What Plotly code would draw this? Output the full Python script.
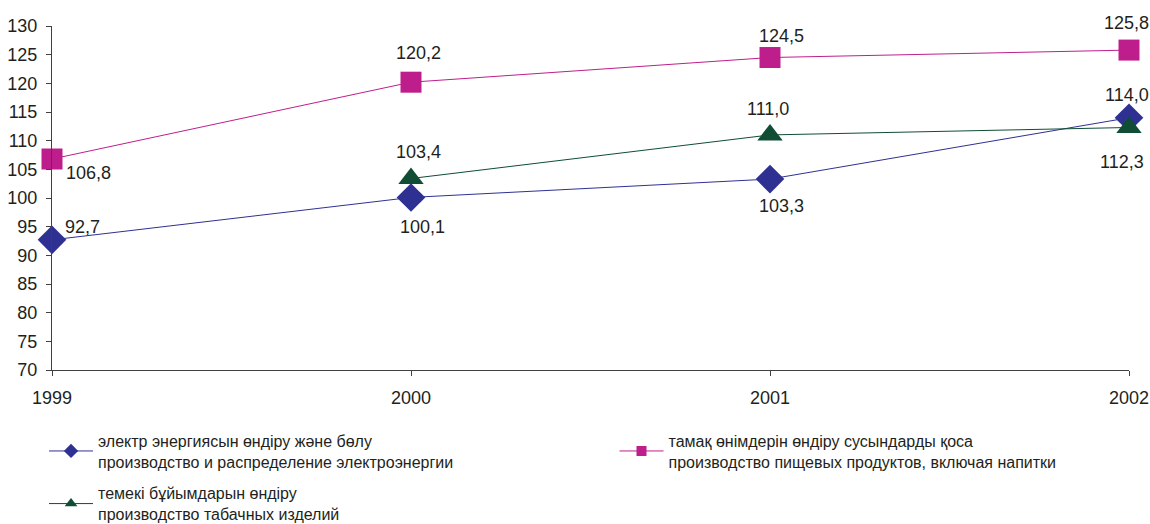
import plotly.graph_objects as go

years = [1999, 2000, 2001, 2002]
elec = [92.7, 100.1, 103.3, 114.0]
food = [106.8, 120.2, 124.5, 125.8]
tobacco = [None, 103.4, 111.0, 112.3]

names = [
    "электр энергиясын өндіру және бөлу<br>производство и распределение электроэнергии",
    "тамақ өнімдерін өндіру сусындарды қоса<br>производство пищевых продуктов, включая напитки",
    "темекі бұйымдарын өндіру<br>производство табачных изделий",
]

# label offsets (pixels) per point: (xshift, yshift)
elec_off = [(30, 13), (11, -30), (11, -27), (-2, 23)]
food_off = [(36, -14), (7, 29), (11, 22), (-3, 27)]
tob_off = [None, (7, 27), (-2, 26), (-7, -35)]

FAM = "Liberation Sans, Arial, sans-serif"
DARK = "#231f20"
font = dict(family=FAM, size=18, color=DARK)

BLUE, PINK, GREEN = "#2e3192", "#be1e8c", "#0f4d34"

series = [
    (elec, names[0], BLUE, "diamond", 22, "legend", "a", 11),
    (food, names[1], PINK, "square", 21, "legend2", "b", 10),
    (tobacco, names[2], GREEN, "triangle-up", 22, "legend", "c", 11),
]

fig = go.Figure()
for vals, name, col, sym, size, leg, grp, lsize in series:
    fig.add_trace(go.Scatter(
        x=years, y=vals, name=name, mode="lines+markers",
        line=dict(color=col, width=1),
        marker=dict(symbol=sym, size=size, color=col),
        cliponaxis=False, showlegend=False, legendgroup=grp,
    ))
    # legend entry (same series, smaller legend symbol)
    fig.add_trace(go.Scatter(
        x=[None], y=[None], name=name, mode="lines+markers",
        line=dict(color=col, width=1),
        marker=dict(symbol=sym, size=lsize, color=col),
        legend=leg, legendgroup=grp, hoverinfo="skip",
    ))

for vals, offs in ((elec, elec_off), (food, food_off), (tobacco, tob_off)):
    for x, v, o in zip(years, vals, offs):
        if v is None:
            continue
        fig.add_annotation(
            x=x, y=v, text=f"{v:.1f}".replace(".", ","), showarrow=False,
            xshift=o[0], yshift=o[1], font=font, xanchor="center", yanchor="middle",
        )

leg_font = dict(family=FAM, size=16, color=DARK)
fig.update_layout(
    width=1150, height=524,
    margin=dict(l=52, r=21, t=26, b=154, autoexpand=False),
    paper_bgcolor="white", plot_bgcolor="white",
    font=font,
    showlegend=True,
    legend=dict(
        orientation="v", x=-0.0074, xanchor="left", y=-0.156, yanchor="top",
        itemwidth=44, font=leg_font,
        traceorder="grouped", tracegroupgap=8, itemclick=False, bgcolor="rgba(0,0,0,0)",
    ),
    legend2=dict(
        orientation="v", x=0.5223, xanchor="left", y=-0.156, yanchor="top",
        itemwidth=44, font=leg_font,
        itemclick=False, bgcolor="rgba(0,0,0,0)",
    ),
    xaxis=dict(
        range=[1999, 2002], tickvals=years, ticktext=[str(y) for y in years],
        showgrid=False, zeroline=False, showline=True, linecolor="#404040", linewidth=1,
        ticks="outside", ticklen=5, tickcolor="#404040",
        tickfont=font, ticklabelstandoff=6,
    ),
    yaxis=dict(
        range=[70, 130], dtick=5, tick0=70,
        showgrid=False, zeroline=False, showline=True, linecolor="#404040", linewidth=1,
        ticks="outside", ticklen=5, tickcolor="#404040",
        tickfont=font, ticklabelstandoff=5,
    ),
)

fig.write_html(
    "out.html",
    config={"displayModeBar": False},
    post_script="document.body.style.margin='0';document.body.style.overflow='hidden';",
)
